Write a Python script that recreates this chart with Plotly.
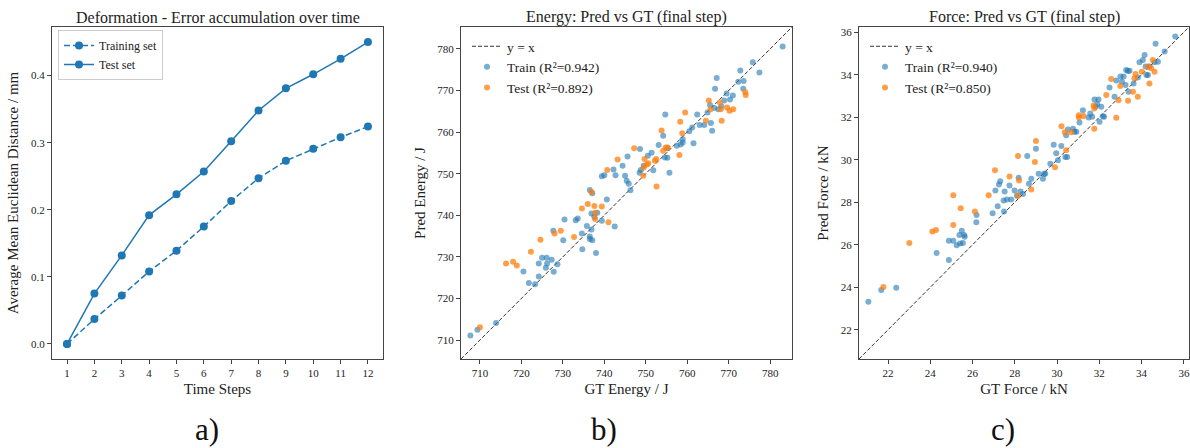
import plotly.graph_objects as go

# ---------------- Panel a data ----------------
steps = list(range(1, 13))
train_err = [0.0, 0.037, 0.072, 0.108, 0.139, 0.175, 0.213, 0.247, 0.273, 0.291, 0.308, 0.324]
test_err = [0.0, 0.075, 0.132, 0.192, 0.223, 0.257, 0.302, 0.348, 0.381, 0.402, 0.425, 0.450]

# ---------------- Panel b data (Energy, J) ----------------
energy_train_gt = [707.7, 709.4, 713.9, 720.5, 721.8, 723.3, 724.2, 724.2, 725.0, 726.1, 725.9, 726.2,
                   727.3, 727.8, 728.7, 727.7, 730.1, 730.4, 733.1, 733.6, 734.6, 734.7, 735.8, 736.5,
                   736.5, 736.9, 737.1, 736.9, 737.6, 738.0, 738.3, 739.4, 742.5, 740.6,
                   736.5, 737.1, 739.4, 740.0, 742.2, 744.4, 742.7, 745.0, 745.4, 745.9, 746.3, 745.6,
                   748.6, 748.5, 748.8, 750.5, 751.4, 749.5, 751.8, 753.1, 754.2, 754.7, 754.6, 755.2,
                   755.7, 755.2, 757.5, 758.4, 758.9, 758.9, 760.5, 761.2, 761.5, 762.4, 763.0, 764.1,
                   764.9, 765.5, 765.7, 766.0, 766.5, 766.7, 767.1, 767.5, 768.2, 768.9, 769.5, 770.3,
                   771.0, 772.3, 772.8, 773.6, 773.5, 775.8, 777.4, 783.0]
energy_train_pred = [711.1, 712.5, 714.1, 726.5, 723.7, 723.4, 725.3, 728.4, 729.8, 729.8, 727.4, 728.4,
                     729.3, 726.4, 728.2, 736.3, 734.0, 739.0, 738.8, 739.2, 735.6, 731.8, 737.4, 734.9,
                     734.3, 736.6, 734.0, 740.4, 739.6, 730.9, 740.6, 738.7, 737.3, 743.8,
                     746.1, 745.3, 749.4, 749.6, 751.0, 751.9, 749.6, 749.5, 748.3, 747.6, 746.0, 754.1,
                     755.9, 750.2, 750.9, 754.3, 755.0, 751.9, 750.8, 756.9, 759.1, 764.2, 753.9, 753.8,
                     750.2, 756.1, 756.7, 757.0, 757.5, 758.3, 760.2, 761.1, 757.3, 764.2, 761.7, 761.7,
                     764.7, 766.5, 762.2, 760.3, 765.8, 770.4, 773.0, 765.5, 766.2, 767.6, 769.3, 767.8,
                     768.8, 772.1, 774.8, 772.3, 770.4, 776.8, 774.3, 780.6]
energy_test_gt = [710.0, 716.3, 718.0, 718.9, 722.3, 724.6, 728.0, 729.5, 732.7, 734.6, 736.0, 737.6,
                  737.8, 737.8, 739.4, 741.0,
                  736.9, 740.7, 743.2, 747.2, 749.4, 749.5, 749.7, 750.3, 750.6, 752.2, 752.5, 752.6,
                  753.8, 754.2, 754.8, 755.3, 758.1, 758.3, 758.8, 759.5, 764.5, 765.2, 765.6, 767.9,
                  768.1, 768.3, 769.6, 770.2, 771.1, 774.0, 774.1]
energy_test_pred = [713.1, 728.4, 728.8, 727.9, 731.2, 734.1, 735.6, 736.3, 734.8, 741.6, 742.7, 742.2,
                    740.6, 739.1, 742.1, 738.3,
                    745.6, 750.9, 753.4, 756.1, 749.5, 751.5, 753.5, 752.2, 752.5, 753.1, 753.5, 746.9,
                    760.4, 755.5, 756.3, 756.3, 754.5, 762.5, 759.7, 764.7, 762.7, 767.6, 765.5, 767.1,
                    765.5, 762.7, 765.9, 765.1, 765.5, 769.6, 768.9]

# ---------------- Panel c data (Force, kN) ----------------
force_train_gt = [21.07, 21.68, 22.39, 24.30, 24.88, 24.88, 25.09, 25.25, 25.38, 25.41, 25.49, 25.54,
                  25.60, 25.63, 26.18, 26.19, 26.95, 27.19, 27.49,
                  27.08, 27.25, 27.31, 27.47, 27.52, 27.63, 27.75, 27.83, 27.99, 28.10, 28.18, 28.27,
                  28.39, 28.59, 28.67, 28.78, 29.13, 29.33, 29.39, 29.44, 29.00, 29.68, 29.84, 29.96,
                  30.04, 30.20, 30.39, 30.43, 30.48, 30.51, 30.75, 30.83, 30.91, 31.06, 31.22, 31.49,
                  31.57, 31.66, 31.77, 31.82, 31.90, 31.96, 32.01, 32.09, 32.17, 32.22, 32.48, 32.72,
                  32.80, 33.00, 33.07, 33.15, 33.24, 33.27, 33.35, 33.38, 33.43, 33.62, 33.82, 33.90,
                  34.06, 34.14, 34.19, 34.23, 34.30, 34.37, 34.61, 34.66, 34.77, 35.09, 35.59]
force_train_pred = [23.32, 23.87, 23.98, 25.61, 25.28, 26.19, 26.19, 25.98, 26.46, 26.06, 26.66, 26.08,
                    26.46, 26.38, 27.06, 27.40, 27.48, 27.81, 27.56,
                    28.55, 28.83, 28.99, 28.08, 28.50, 28.13, 28.79, 28.13, 28.55, 28.31, 29.15, 28.50,
                    28.39, 30.17, 28.87, 29.10, 29.34, 29.10, 29.34, 29.34, 30.52, 29.81, 30.71, 30.31,
                    29.97, 30.65, 30.13, 31.15, 30.13, 31.42, 31.46, 31.31, 31.31, 31.75, 32.33, 31.98,
                    32.17, 32.02, 32.83, 32.49, 32.61, 32.83, 31.78, 32.49, 32.05, 32.02, 33.40, 32.96,
                    33.72, 33.91, 33.67, 33.91, 33.51, 34.22, 34.17, 33.20, 34.19, 33.59, 33.87, 34.58,
                    34.69, 34.93, 34.38, 33.98, 33.98, 34.38, 34.58, 35.45, 34.61, 35.09, 35.80]
force_test_gt = [21.78, 23.01, 24.10, 24.27, 25.09, 25.44, 26.11,
                 25.09, 27.06, 26.76, 27.75, 28.15, 28.15, 28.20, 28.78, 29.00, 28.95, 29.90, 30.21,
                 30.43, 30.37, 30.67, 31.03, 31.03, 31.25, 31.73, 31.76, 31.76, 32.33, 32.56, 32.80,
                 32.91, 32.99, 33.36, 33.59, 33.66, 33.71, 33.82, 34.01, 34.30, 34.37, 34.53, 34.61, 34.45]
force_test_pred = [24.02, 26.08, 26.63, 26.69, 26.93, 27.72, 27.57,
                   28.33, 29.50, 28.33, 29.21, 30.17, 28.31, 29.02, 28.60, 30.88, 29.89, 29.65, 31.57,
                   30.44, 31.29, 31.29, 31.98, 32.09, 32.06, 32.55, 32.41, 31.46, 33.04, 33.80, 31.97,
                   32.80, 33.47, 32.77, 33.20, 33.83, 34.03, 32.96, 34.14, 34.38, 33.59, 34.69, 34.14, 34.30]

energy_labels = ["Train (R\u00b2=0.942)", "Test (R\u00b2=0.892)"]
force_labels = ["Train (R\u00b2=0.940)", "Test (R\u00b2=0.850)"]

BLUE = "#1f77b4"
ORANGE = "#ff7f0e"
FONT = "Liberation Serif"
W, H = 1190, 448


def lims(*arrs, pad=0.03):
    vals = [v for a in arrs for v in a]
    lo, hi = min(vals), max(vals)
    span = hi - lo
    return [lo - pad * span, hi + pad * span]


fig = go.Figure()

# Panel a
fig.add_trace(go.Scatter(x=steps, y=train_err, mode="lines+markers", name="Training set",
                         line=dict(color=BLUE, width=1.5, dash="6px,3px"),
                         marker=dict(size=8, color=BLUE), xaxis="x", yaxis="y", legend="legend"))
fig.add_trace(go.Scatter(x=steps, y=test_err, mode="lines+markers", name="Test set",
                         line=dict(color=BLUE, width=1.5),
                         marker=dict(size=8, color=BLUE), xaxis="x", yaxis="y", legend="legend"))

# Panel b
eb = lims(energy_train_gt, energy_train_pred, energy_test_gt, energy_test_pred)
fig.add_trace(go.Scatter(x=eb, y=eb, mode="lines", name="y = x",
                         line=dict(color="rgba(0,0,0,0.8)", width=1, dash="4px,2px"),
                         xaxis="x2", yaxis="y2", legend="legend2"))
fig.add_trace(go.Scatter(x=energy_train_gt, y=energy_train_pred, mode="markers", name=energy_labels[0],
                         marker=dict(size=6, color=BLUE, opacity=0.6), xaxis="x2", yaxis="y2",
                         legend="legend2"))
fig.add_trace(go.Scatter(x=energy_test_gt, y=energy_test_pred, mode="markers", name=energy_labels[1],
                         marker=dict(size=6, color=ORANGE, opacity=0.75), xaxis="x2", yaxis="y2",
                         legend="legend2"))

# Panel c
fc = lims(force_train_gt, force_train_pred, force_test_gt, force_test_pred)
fig.add_trace(go.Scatter(x=fc, y=fc, mode="lines", name="y = x",
                         line=dict(color="rgba(0,0,0,0.8)", width=1, dash="4px,2px"),
                         xaxis="x3", yaxis="y3", legend="legend3"))
fig.add_trace(go.Scatter(x=force_train_gt, y=force_train_pred, mode="markers", name=force_labels[0],
                         marker=dict(size=6, color=BLUE, opacity=0.6), xaxis="x3", yaxis="y3",
                         legend="legend3"))
fig.add_trace(go.Scatter(x=force_test_gt, y=force_test_pred, mode="markers", name=force_labels[1],
                         marker=dict(size=6, color=ORANGE, opacity=0.75), xaxis="x3", yaxis="y3",
                         legend="legend3"))

ydom = [1 - 359 / H, 1 - 27 / H]
axcommon = dict(showline=True, linecolor="#444", linewidth=1, mirror=True, showgrid=False,
                zeroline=False, ticks="outside", ticklen=4, tickcolor="#444",
                tickfont=dict(family=FONT, size=11, color="#222"))
titlefont = dict(family=FONT, size=15, color="#222")

fig.update_layout(
    width=W, height=H, margin=dict(l=0, r=0, t=0, b=0),
    paper_bgcolor="white", plot_bgcolor="white",
    font=dict(family=FONT, color="#222"),
    showlegend=True,
    xaxis=dict(domain=[52 / W, 383 / W], range=[0.45, 12.55], tickvals=steps, anchor="y",
               title=dict(text="Time Steps", font=titlefont, standoff=5), **axcommon),
    yaxis=dict(domain=ydom, range=[-0.0225, 0.4725], tickvals=[0, 0.1, 0.2, 0.3, 0.4],
               tickformat=".1f", anchor="x",
               title=dict(text="Average Mean Euclidean Distance / mm", font=titlefont, standoff=8),
               **axcommon),
    xaxis2=dict(domain=[461 / W, 792 / W], range=eb, tickvals=[710, 720, 730, 740, 750, 760, 770, 780],
                anchor="y2", title=dict(text="GT Energy / J", font=titlefont, standoff=5), **axcommon),
    yaxis2=dict(domain=ydom, range=eb, tickvals=[710, 720, 730, 740, 750, 760, 770, 780], anchor="x2",
                title=dict(text="Pred Energy / J", font=titlefont, standoff=8), **axcommon),
    xaxis3=dict(domain=[859 / W, 1189 / W], range=fc, tickvals=[22, 24, 26, 28, 30, 32, 34, 36],
                anchor="y3", title=dict(text="GT Force / kN", font=titlefont, standoff=5), **axcommon),
    yaxis3=dict(domain=ydom, range=fc, tickvals=[22, 24, 26, 28, 30, 32, 34, 36], anchor="x3",
                title=dict(text="Pred Force / kN", font=titlefont, standoff=8), **axcommon),
    legend=dict(x=58 / W, y=1 - 30 / H, xanchor="left", yanchor="top", bgcolor="rgba(255,255,255,0.8)",
                bordercolor="#ccc", borderwidth=1, font=dict(family=FONT, size=12, color="#222"),
                tracegroupgap=2, itemwidth=30),
    legend2=dict(x=467 / W, y=1 - 31 / H, xanchor="left", yanchor="top", bgcolor="rgba(0,0,0,0)",
                 borderwidth=0, font=dict(family=FONT, size=13.5, color="#222"), itemwidth=30),
    legend3=dict(x=865 / W, y=1 - 31 / H, xanchor="left", yanchor="top", bgcolor="rgba(0,0,0,0)",
                 borderwidth=0, font=dict(family=FONT, size=13.5, color="#222"), itemwidth=30),
)

# Panel titles and labels
titles = [("Deformation - Error accumulation over time", (52 + 383) / 2),
          ("Energy: Pred vs GT (final step)", (461 + 792) / 2),
          ("Force: Pred vs GT (final step)", (859 + 1189) / 2)]
for txt, cx in titles:
    fig.add_annotation(text=txt, x=cx / W, y=1 - 17 / H, xref="paper", yref="paper",
                       showarrow=False, xanchor="center", yanchor="middle",
                       font=dict(family=FONT, size=16, color="#222"))

for txt, cx in [("a)", 207), ("b)", 604), ("c)", 1003)]:
    fig.add_annotation(text=txt, x=cx / W, y=1 - 429 / H, xref="paper", yref="paper",
                       showarrow=False, xanchor="center", yanchor="middle",
                       font=dict(family=FONT, size=31, color="#111"))

fig.write_html("out.html", config={"displayModeBar": False},
               post_script="document.body.style.margin='0';document.body.style.overflow='hidden';")
